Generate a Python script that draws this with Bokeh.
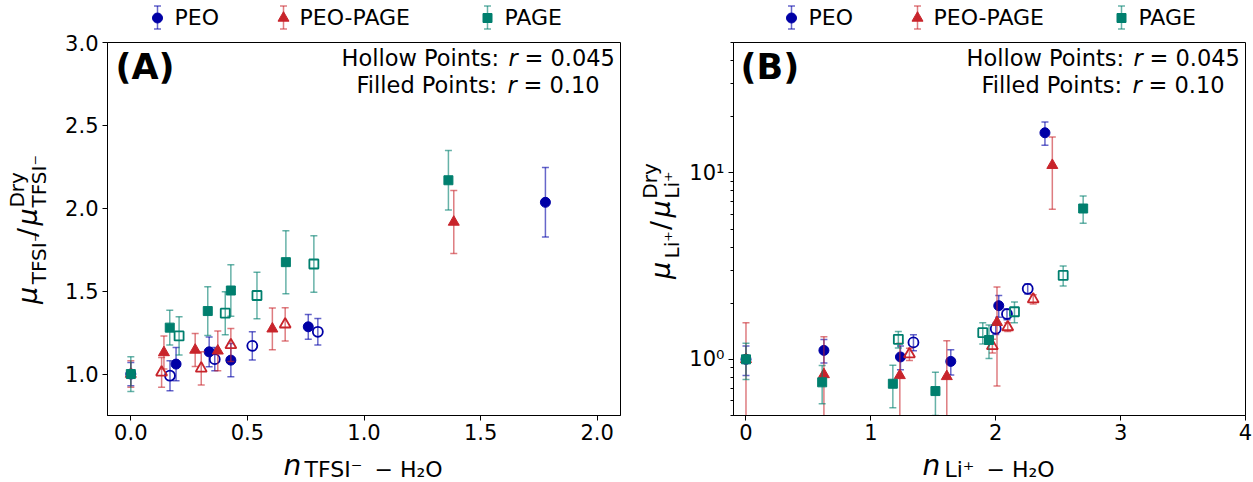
import math
from bokeh.plotting import figure
from bokeh.models import FixedTicker, Range1d, ColumnDataSource, NumeralTickFormatter
from bokeh.layouts import column, row
from bokeh.embed import file_html
from bokeh.resources import INLINE
from bokeh.core.properties import value

FONT = "DejaVu Sans"

# ---------------- data ----------------
series_names = ["PEO", "PEO-PAGE", "PAGE"]
series_colors = ["#0000a6", "#c8242b", "#007f6e"]
series_markers = ["circle", "triangle", "square"]

# Panel A : x = n_TFSI- - H2O, y = mu / mu_dry
A_PEO_filled_x = [0.0, 0.194, 0.336, 0.429, 0.761, 1.778]
A_PEO_filled_y = [1.0, 1.06, 1.134, 1.084, 1.285, 2.036]
A_PEO_filled_err = [0.07, 0.10, 0.09, 0.10, 0.075, 0.21]
A_PEO_hollow_x = [0.168, 0.36, 0.521, 0.802]
A_PEO_hollow_y = [0.99, 1.09, 1.17, 1.255]
A_PEO_hollow_err = [0.09, 0.07, 0.085, 0.08]

A_PP_filled_x = [0.0, 0.142, 0.276, 0.373, 0.607, 1.385]
A_PP_filled_y = [1.0, 1.13, 1.145, 1.14, 1.273, 1.917]
A_PP_filled_err = [0.08, 0.10, 0.10, 0.12, 0.126, 0.19]
A_PP_hollow_x = [0.132, 0.302, 0.429, 0.662]
A_PP_hollow_y = [1.01, 1.034, 1.175, 1.30]
A_PP_hollow_err = [0.09, 0.10, 0.10, 0.10]

A_PAGE_filled_x = [0.0, 0.167, 0.33, 0.429, 0.665, 1.362]
A_PAGE_filled_y = [1.0, 1.28, 1.38, 1.504, 1.675, 2.169]
A_PAGE_filled_err = [0.105, 0.105, 0.147, 0.155, 0.19, 0.18]
A_PAGE_hollow_x = [0.207, 0.405, 0.541, 0.785]
A_PAGE_hollow_y = [1.23, 1.367, 1.474, 1.664]
A_PAGE_hollow_err = [0.115, 0.13, 0.14, 0.17]

# Panel B : x = n_Li+ - H2O, y = mu / mu_dry (log)
B_PEO_filled_x = [0.0, 0.624, 1.237, 1.64, 2.024, 2.394]
B_PEO_filled_y = [1.0, 1.117, 1.03, 0.975, 1.94, 16.4]
B_PEO_filled_err = [0.18, 0.16, 0.15, 0.15, 0.26, 2.35]
B_PEO_hollow_x = [1.341, 2.0, 2.09, 2.256]
B_PEO_hollow_y = [1.233, 1.46, 1.75, 2.39]
B_PEO_hollow_err = [0.12, 0.10, 0.12, 0.15]

B_PP_filled_x = [0.0, 0.624, 1.232, 1.608, 2.01, 2.453]
B_PP_filled_y = [1.0, 0.83, 0.82, 0.81, 1.58, 10.98]
B_PP_filled_err = [0.57, 0.49, 0.40, 0.45, 0.86, 4.6]
B_PP_hollow_x = [1.309, 1.973, 2.096, 2.3]
B_PP_hollow_y = [1.067, 1.18, 1.49, 2.1]
B_PP_hollow_err = [0.08, 0.10, 0.08, 0.12]

B_PAGE_filled_x = [0.0, 0.61, 1.176, 1.517, 1.946, 2.70]
B_PAGE_filled_y = [1.0, 0.753, 0.74, 0.676, 1.27, 6.44]
B_PAGE_filled_err = [0.22, 0.175, 0.19, 0.176, 0.26, 1.08]
B_PAGE_hollow_x = [1.22, 1.896, 2.15, 2.54]
B_PAGE_hollow_y = [1.28, 1.39, 1.8, 2.82]
B_PAGE_hollow_err = [0.13, 0.18, 0.23, 0.35]

A_xticks = [0.0, 0.5, 1.0, 1.5, 2.0]
A_yticks = [1.0, 1.5, 2.0, 2.5, 3.0]
B_xticks = [0, 1, 2, 3, 4]
B_yticks = [1, 10]
B_ytick_labels = ["10\u2070", "10\u00b9"]
B_yminor = [0.5, 0.6, 0.7, 0.8, 0.9, 2, 3, 4, 5, 6, 7, 8, 9, 20, 30, 40, 50]

A_data = {
    "PEO": (A_PEO_filled_x, A_PEO_filled_y, A_PEO_filled_err, A_PEO_hollow_x, A_PEO_hollow_y, A_PEO_hollow_err),
    "PEO-PAGE": (A_PP_filled_x, A_PP_filled_y, A_PP_filled_err, A_PP_hollow_x, A_PP_hollow_y, A_PP_hollow_err),
    "PAGE": (A_PAGE_filled_x, A_PAGE_filled_y, A_PAGE_filled_err, A_PAGE_hollow_x, A_PAGE_hollow_y, A_PAGE_hollow_err),
}
B_data = {
    "PEO": (B_PEO_filled_x, B_PEO_filled_y, B_PEO_filled_err, B_PEO_hollow_x, B_PEO_hollow_y, B_PEO_hollow_err),
    "PEO-PAGE": (B_PP_filled_x, B_PP_filled_y, B_PP_filled_err, B_PP_hollow_x, B_PP_hollow_y, B_PP_hollow_err),
    "PAGE": (B_PAGE_filled_x, B_PAGE_filled_y, B_PAGE_filled_err, B_PAGE_hollow_x, B_PAGE_hollow_y, B_PAGE_hollow_err),
}

MSIZE = {"circle": 10, "triangle": 11, "square": 9}
ERR_ALPHA = 0.6


def draw_series(p, x, y, err, color, marker, filled):
    lo = [v - e for v, e in zip(y, err)]
    hi = [v + e for v, e in zip(y, err)]
    src = ColumnDataSource(dict(x=x, y=y, lo=lo, hi=hi))
    p.segment(x0="x", y0="lo", x1="x", y1="hi", source=src, line_color=color,
              line_alpha=ERR_ALPHA, line_width=1.5)
    p.scatter(x="x", y="lo", source=src, marker="dash", size=7, line_color=color,
              line_alpha=ERR_ALPHA, line_width=1.5)
    p.scatter(x="x", y="hi", source=src, marker="dash", size=7, line_color=color,
              line_alpha=ERR_ALPHA, line_width=1.5)
    if filled:
        p.scatter(x="x", y="y", source=src, marker=marker, size=MSIZE[marker],
                  fill_color=color, line_color=color, line_width=1)
    else:
        p.scatter(x="x", y="y", source=src, marker=marker, size=MSIZE[marker],
                  fill_alpha=0, line_color=color, line_width=1.8)


def style_axes(p):
    for ax in (p.xaxis[0], p.yaxis[0]):
        ax.axis_line_color = "black"
        ax.axis_line_width = 1
        ax.major_tick_line_color = "black"
        ax.major_tick_out = 5
        ax.major_tick_in = 0
        ax.minor_tick_line_color = None
        ax.major_label_text_font = FONT
        ax.major_label_text_font_size = "21px"
        ax.major_label_text_color = "black"
        ax.major_label_standoff = 4
    p.xaxis[0].major_label_standoff = 3
    p.xgrid.visible = False
    p.ygrid.visible = False
    p.outline_line_color = "black"
    p.outline_line_width = 1
    p.outline_line_alpha = 1


def blank_fig(x0, y0, w, h):
    """A figure without axes whose data coordinates are window pixels (y negated)."""
    f = figure(width=w, height=h, x_range=Range1d(x0, x0 + w), y_range=Range1d(-(y0 + h), -y0),
               output_backend="svg", toolbar_location=None, x_axis_location=None,
               y_axis_location=None, min_border=0, outline_line_color=None,
               background_fill_color="white", border_fill_color="white")
    f.xgrid.visible = False
    f.ygrid.visible = False
    return f


def px_conv(X, Y):
    return X, -Y


MID = 0.346  # distance baseline -> middle of the em box, in em


def put(f, conv, X, Y, text, size, style="normal", rotated=False):
    """Place text whose left end / alphabetic baseline is at window pixel (X, Y)."""
    if rotated:
        Xm, Ym, angle = X - MID * size, Y, math.pi / 2
    else:
        Xm, Ym, angle = X, Y - MID * size, 0.0
    x, y = conv(Xm, Ym)
    f.text(x=[x], y=[y], text=[text], angle=angle, text_font=value(FONT),
           text_font_size=f"{size}px", text_font_style=style, text_align="left",
           text_baseline="middle", text_color="black")


# ---------------- geometry (window pixels) ----------------
W = 1253
H = 482
LEG_H = 30
XLAB_H = 34
MID_H = H - LEG_H - XLAB_H
TOP, BOTTOM = 42, 415
A_LEFT, A_RIGHT = 107, 620
B_LEFT, B_RIGHT = 733, 1245
YLAB_A_W = 55
SPLIT = 634          # where panel B's y-label strip starts
YLAB_B_W = 52
LEG_SPLIT = 640

# ---------------- Panel A ----------------
A_XR = (-0.1, 2.1)
A_YR = (0.75, 3.0)
pA = figure(width=SPLIT - YLAB_A_W, height=MID_H, x_range=Range1d(*A_XR), y_range=Range1d(*A_YR),
            output_backend="svg", toolbar_location=None,
            min_border_left=A_LEFT - YLAB_A_W, min_border_right=SPLIT - A_RIGHT,
            min_border_top=TOP - LEG_H, min_border_bottom=(H - XLAB_H) - BOTTOM,
            background_fill_color="white", border_fill_color="white")
style_axes(pA)
pA.xaxis[0].ticker = FixedTicker(ticks=A_xticks)
pA.yaxis[0].ticker = FixedTicker(ticks=A_yticks)
pA.xaxis[0].formatter = NumeralTickFormatter(format="0.0")
pA.yaxis[0].formatter = NumeralTickFormatter(format="0.0")

# ---------------- Panel B ----------------
B_XR = (-0.1, 4.0)
B_YR = (0.5, 50.0)
pB = figure(width=W - SPLIT - YLAB_B_W, height=MID_H, x_range=Range1d(*B_XR),
            y_range=Range1d(*B_YR), y_axis_type="log", output_backend="svg",
            toolbar_location=None,
            min_border_left=B_LEFT - SPLIT - YLAB_B_W, min_border_right=W - B_RIGHT,
            min_border_top=TOP - LEG_H, min_border_bottom=(H - XLAB_H) - BOTTOM,
            background_fill_color="white", border_fill_color="white")
style_axes(pB)
pB.xaxis[0].ticker = FixedTicker(ticks=B_xticks)
pB.yaxis[0].ticker = FixedTicker(ticks=B_yticks, minor_ticks=B_yminor)
pB.yaxis[0].major_label_overrides = {t: s for t, s in zip(B_yticks, B_ytick_labels)}
pB.yaxis[0].minor_tick_line_color = "black"
pB.yaxis[0].minor_tick_out = 3
pB.yaxis[0].minor_tick_in = 0

for p, data in ((pA, A_data), (pB, B_data)):
    for name, color, marker in zip(series_names, series_colors, series_markers):
        fx, fy, fe, hx, hy, he = data[name]
        draw_series(p, hx, hy, he, color, marker, False)
        draw_series(p, fx, fy, fe, color, marker, True)


def conv_A(X, Y):
    x = A_XR[0] + (X - A_LEFT) * (A_XR[1] - A_XR[0]) / (A_RIGHT - A_LEFT)
    y = A_YR[0] + (BOTTOM - Y) * (A_YR[1] - A_YR[0]) / (BOTTOM - TOP)
    return x, y


def conv_B(X, Y):
    x = B_XR[0] + (X - B_LEFT) * (B_XR[1] - B_XR[0]) / (B_RIGHT - B_LEFT)
    l0, l1 = math.log10(B_YR[0]), math.log10(B_YR[1])
    y = 10 ** (l0 + (BOTTOM - Y) * (l1 - l0) / (BOTTOM - TOP))
    return x, y


# in-frame annotations
for p, conv, dx, tag in ((pA, conv_A, 0, "(A)"), (pB, conv_B, 625, "(B)")):
    put(p, conv, 115 + dx, 79, tag, 35, style="bold")
    put(p, conv, 341 + dx, 65, "Hollow Points:", 22.5)
    put(p, conv, 508 + dx, 65, "r", 22.5, style="italic")
    put(p, conv, 524 + dx, 65, "= 0.045", 22.5)
    put(p, conv, 356 + dx, 92, "Filled Points:", 22.5)
    put(p, conv, 507 + dx, 92, "r", 22.5, style="italic")
    put(p, conv, 523 + dx, 92, "= 0.10", 22.5)

MU = "\u03bc"
MINUS_SUP = "\u207b"
PLUS_SUP = "\u207a"

# y-label figures
ylabA = blank_fig(0, LEG_H, YLAB_A_W, MID_H)
put(ylabA, px_conv, 36, 323, MU, 27, style="italic", rotated=True)
put(ylabA, px_conv, 45, 301, "TFSI" + MINUS_SUP, 20, rotated=True)
put(ylabA, px_conv, 36, 248, "/", 27, rotated=True)
put(ylabA, px_conv, 36, 235, MU, 27, style="italic", rotated=True)
put(ylabA, px_conv, 23, 215, "Dry", 20, rotated=True)
put(ylabA, px_conv, 45, 215, "TFSI" + MINUS_SUP, 20, rotated=True)

ylabB = blank_fig(SPLIT, LEG_H, YLAB_B_W, MID_H)
put(ylabB, px_conv, 669, 295, MU, 27, style="italic", rotated=True)
put(ylabB, px_conv, 678, 272, "Li" + PLUS_SUP, 20, rotated=True)
put(ylabB, px_conv, 669, 240, "/", 27, rotated=True)
put(ylabB, px_conv, 669, 226, MU, 27, style="italic", rotated=True)
put(ylabB, px_conv, 656, 205, "Dry", 20, rotated=True)
put(ylabB, px_conv, 678, 205, "Li" + PLUS_SUP, 20, rotated=True)

# x-label figures
xlabA = blank_fig(0, H - XLAB_H, LEG_SPLIT, XLAB_H)
put(xlabA, px_conv, 283, 475, "n", 28, style="italic")
put(xlabA, px_conv, 304, 476.5, "TFSI" + MINUS_SUP, 22)
put(xlabA, px_conv, 374, 476.5, "\u2212 H\u2082O", 22)
xlabB = blank_fig(LEG_SPLIT, H - XLAB_H, W - LEG_SPLIT, XLAB_H)
put(xlabB, px_conv, 922, 475, "n", 28, style="italic")
put(xlabB, px_conv, 944, 476.5, "Li" + PLUS_SUP, 22)
put(xlabB, px_conv, 986, 476.5, "\u2212 H\u2082O", 22)

# ---------------- legends ----------------
LEG_MARKER_X_A = [157, 283, 487]
LEG_TEXT_X_A = [174, 299, 504]
LEG_SHIFT_B = 634


def make_legend(x0, w, shift):
    lg = blank_fig(x0, 0, w, LEG_H)
    ym = 17.5
    for name, color, marker, mx, tx in zip(series_names, series_colors, series_markers,
                                           LEG_MARKER_X_A, LEG_TEXT_X_A):
        mx = mx + shift
        tx = tx + shift
        lg.segment(x0=[mx], y0=[-(ym - 12)], x1=[mx], y1=[-(ym + 11)], line_color=color,
                   line_alpha=ERR_ALPHA, line_width=1.5)
        lg.scatter(x=[mx, mx], y=[-(ym - 12), -(ym + 11)], marker="dash", size=7,
                   line_color=color, line_alpha=ERR_ALPHA, line_width=1.5)
        lg.scatter(x=[mx], y=[-ym], marker=marker, size=MSIZE[marker], fill_color=color,
                   line_color=color)
        lg.text(x=[tx], y=[-17], text=[name], text_font=value(FONT), text_font_size="22px",
                text_baseline="middle", text_align="left", text_color="black")
    return lg


legA = make_legend(0, LEG_SPLIT, 0)
legB = make_legend(LEG_SPLIT, W - LEG_SPLIT, LEG_SHIFT_B)

layout = column(
    row(legA, legB),
    row(ylabA, pA, ylabB, pB),
    row(xlabA, xlabB),
)
open("out.html", "w").write(file_html(layout, INLINE))
